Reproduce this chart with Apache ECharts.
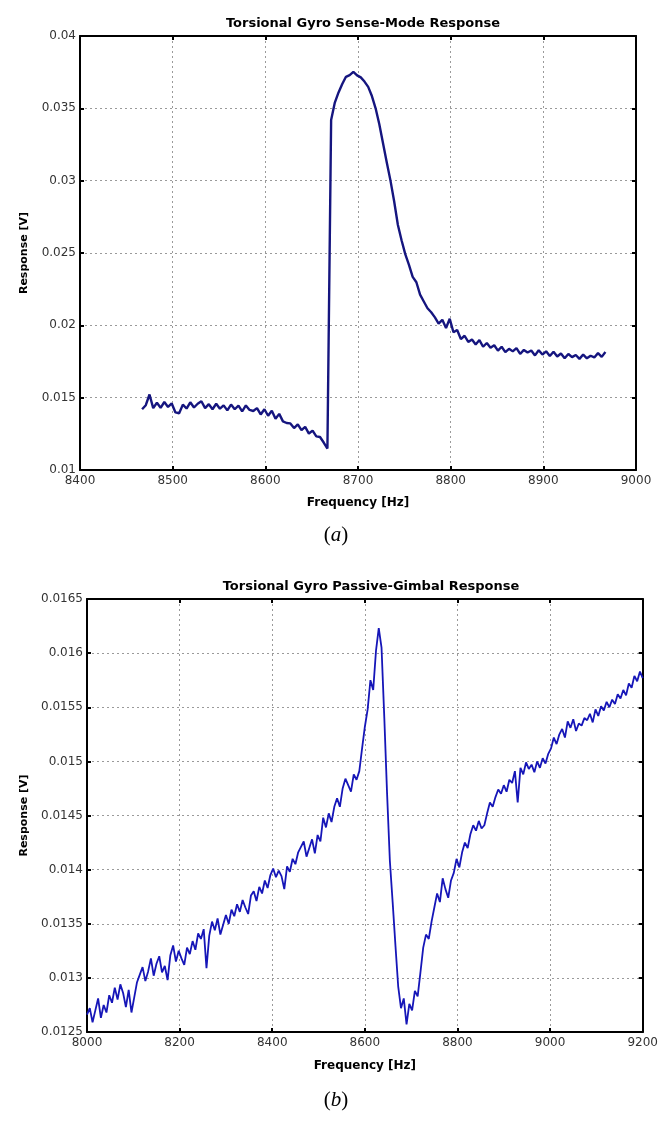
<!DOCTYPE html>
<html>
<head>
<meta charset="utf-8">
<script src="https://cdn.jsdelivr.net/npm/echarts@6/dist/echarts.min.js"></script>
<style>
html, body { margin: 0; padding: 0; background: #fff; }
#chart { width: 661px; height: 1122px; }
</style>
</head>
<body>
<div id="chart"></div>
<script>
// (a) sense-mode sweep, one reading every 4 Hz starting at 8467 Hz
var senseStartHz = 8467;
var senseStepHz = 4;
var senseValues = [
    0.01420, 0.01448, 0.01522, 0.01428, 0.01465, 0.01430, 0.01470, 0.01436, 0.01460, 0.01398,
    0.01392, 0.01452, 0.01425, 0.01468, 0.01432, 0.01458, 0.01475, 0.01428, 0.01455, 0.01420,
    0.01458, 0.01424, 0.01447, 0.01412, 0.01452, 0.01420, 0.01445, 0.01405, 0.01446, 0.01415,
    0.01408, 0.01428, 0.01384, 0.01420, 0.01375, 0.01410, 0.01355, 0.01388, 0.01336, 0.01325,
    0.01322, 0.01290, 0.01315, 0.01275, 0.01298, 0.01252, 0.01272, 0.01232, 0.01228, 0.01190,
    0.01148,
    0.03420, 0.03540, 0.03610, 0.03668, 0.03718, 0.03730, 0.03752, 0.03728, 0.03714,
    0.03685, 0.03648, 0.03585, 0.03500, 0.03390, 0.03258, 0.03128, 0.03002, 0.02858, 0.02695,
    0.02588, 0.02492, 0.02418, 0.02335, 0.02298, 0.02212, 0.02165, 0.02118, 0.02090, 0.02055,
    0.02012, 0.02038, 0.01982, 0.02045, 0.01952, 0.01968, 0.01905, 0.01928, 0.01885, 0.01902,
    0.01868, 0.01898, 0.01852, 0.01878, 0.01845, 0.01862, 0.01825, 0.01852, 0.01815, 0.01838,
    0.01820, 0.01842, 0.01802, 0.01830, 0.01812, 0.01826, 0.01792, 0.01828, 0.01798, 0.01820,
    0.01788, 0.01818, 0.01785, 0.01805, 0.01772, 0.01802, 0.01780, 0.01795, 0.01768, 0.01798,
    0.01772, 0.01790, 0.01778, 0.01808, 0.01782, 0.01815
];

// (b) passive-gimbal sweep, one reading every 6 Hz starting at 8000 Hz
var gimbalStartHz = 8000;
var gimbalStepHz = 6;
var gimbalValues = [
    0.01266, 0.01272, 0.01259, 0.01270, 0.01281, 0.01263, 0.01275, 0.01268, 0.01284, 0.01277,
    0.01291, 0.01280, 0.01294, 0.01286, 0.01273, 0.01289, 0.01268, 0.01282, 0.01296, 0.01303,
    0.01310, 0.01297, 0.01306, 0.01318, 0.01302, 0.01313, 0.01320, 0.01305, 0.01311, 0.01298,
    0.01321, 0.01330, 0.01315, 0.01325, 0.01318, 0.01312, 0.01328, 0.01322, 0.01334, 0.01326,
    0.01341, 0.01336, 0.01345, 0.01309, 0.01339, 0.01352, 0.01344, 0.01355, 0.01340, 0.01349,
    0.01358, 0.01350, 0.01363, 0.01357, 0.01368, 0.01361, 0.01372, 0.01365, 0.01359, 0.01376,
    0.01380, 0.01371, 0.01384, 0.01378, 0.01390, 0.01383, 0.01395, 0.01401, 0.01393, 0.01399,
    0.01394, 0.01382, 0.01403, 0.01398, 0.01410, 0.01405, 0.01416, 0.01421, 0.01426, 0.01412,
    0.01420, 0.01428, 0.01415, 0.01432, 0.01426, 0.01448, 0.01439, 0.01452, 0.01444, 0.01458,
    0.01466, 0.01458, 0.01475, 0.01484, 0.01478, 0.01472, 0.01488, 0.01483, 0.01491, 0.01512,
    0.01532, 0.01548, 0.01575, 0.01566, 0.01602, 0.01623, 0.01605, 0.01540, 0.01470, 0.01408,
    0.01370, 0.01330, 0.01292, 0.01272, 0.01281, 0.01257, 0.01276, 0.01270, 0.01288, 0.01283,
    0.01305, 0.01328, 0.01340, 0.01336, 0.01352, 0.01365, 0.01378, 0.01370, 0.01392, 0.01382,
    0.01374, 0.01390, 0.01397, 0.01410, 0.01402, 0.01416, 0.01425, 0.01420, 0.01433, 0.01441,
    0.01436, 0.01445, 0.01438, 0.01441, 0.01452, 0.01462, 0.01458, 0.01467, 0.01474, 0.01470,
    0.01478, 0.01472, 0.01483, 0.01480, 0.01491, 0.01462, 0.01494, 0.01488, 0.01499, 0.01493,
    0.01497, 0.01490, 0.01500, 0.01494, 0.01503, 0.01498, 0.01507, 0.01512, 0.01522, 0.01516,
    0.01525, 0.01530, 0.01522, 0.01537, 0.01531, 0.01539, 0.01528, 0.01535, 0.01533, 0.01540,
    0.01538, 0.01544, 0.01536, 0.01548, 0.01542, 0.01551, 0.01547, 0.01555, 0.01550, 0.01557,
    0.01553, 0.01562, 0.01558, 0.01566, 0.01561, 0.01572, 0.01568, 0.01579, 0.01574, 0.01583,
    0.01577
];

var titles = ['Torsional Gyro Sense-Mode Response', 'Torsional Gyro Passive-Gimbal Response'];
var captions = ['a', 'b'];

var font = 'DejaVu Sans';

function toPairs(start, step, values) {
    return values.map(function (v, i) { return [start + i * step, v]; });
}

function yFmt(digits) {
    return function (v) { return String(+v.toFixed(digits)); };
}

var gridLine = { show: true, lineStyle: { color: '#9a9a9a', type: [2, 3], width: 1 } };
var boxLine = { show: true, lineStyle: { color: '#000', width: 2 } };
var inTick = { show: true, inside: true, length: 4, lineStyle: { color: '#000', width: 2 } };

// bottom / left axes carry labels, top / right ones only close the box
function xAxes(gridIndex, min, max, interval, nameGap) {
    return [{
        type: 'value', gridIndex: gridIndex, min: min, max: max, interval: interval,
        name: 'Frequency [Hz]', nameLocation: 'middle', nameGap: nameGap,
        nameTextStyle: { fontFamily: font, fontWeight: 'bold', fontSize: 12, color: '#000' },
        axisLine: boxLine, axisTick: inTick, splitLine: gridLine,
        axisLabel: { fontFamily: font, fontSize: 12, color: '#333', margin: 5,
                     formatter: function (v) { return String(v); } }
    }, {
        type: 'value', gridIndex: gridIndex, position: 'top', min: min, max: max, interval: interval,
        axisLine: boxLine, axisTick: inTick, splitLine: { show: false }, axisLabel: { show: false }
    }];
}

function yAxes(gridIndex, min, max, interval, digits, nameGap) {
    return [{
        type: 'value', gridIndex: gridIndex, min: min, max: max, interval: interval,
        name: 'Response [V]', nameLocation: 'middle', nameGap: nameGap, nameRotate: 90,
        nameTextStyle: { fontFamily: font, fontWeight: 'bold', fontSize: 11, color: '#000' },
        axisLine: boxLine, axisTick: inTick, splitLine: gridLine,
        axisLabel: { fontFamily: font, fontSize: 12, color: '#333', margin: 4, formatter: yFmt(digits) }
    }, {
        type: 'value', gridIndex: gridIndex, position: 'right', min: min, max: max, interval: interval,
        axisLine: boxLine, axisTick: inTick, splitLine: { show: false }, axisLabel: { show: false }
    }];
}

var capStyle = {
    fontWeight: 'normal',
    rich: {
        p: { fontFamily: 'Liberation Serif', fontWeight: 'normal', fontSize: 21, color: '#000' },
        i: { fontFamily: 'Liberation Serif', fontWeight: 'normal', fontStyle: 'italic', fontSize: 21, color: '#000' }
    }
};

var option = {
    animation: false,
    backgroundColor: '#fff',
    title: [
        { text: titles[0], left: 358, top: 12, textAlign: 'center',
          textStyle: { fontFamily: font, fontWeight: 'bold', fontSize: 13, color: '#000' } },
        { text: titles[1], left: 366, top: 575, textAlign: 'center',
          textStyle: { fontFamily: font, fontWeight: 'bold', fontSize: 13, color: '#000' } },
        { text: '{p|(}{i|' + captions[0] + '}{p|)}', left: 331, top: 520, textAlign: 'center', textStyle: capStyle },
        { text: '{p|(}{i|' + captions[1] + '}{p|)}', left: 331, top: 1085, textAlign: 'center', textStyle: capStyle }
    ],
    grid: [
        { left: 80, top: 36, width: 556, height: 434 },
        { left: 87, top: 599, width: 558, height: 433 }
    ],
    xAxis: xAxes(0, 8400, 9000, 100, 27).concat(xAxes(1, 8000, 9200, 200, 28)),
    yAxis: yAxes(0, 0.01, 0.04, 0.005, 4, 50).concat(yAxes(1, 0.0125, 0.0165, 0.0005, 5, 56)),
    series: [{
        type: 'line', xAxisIndex: 0, yAxisIndex: 0, showSymbol: false,
        lineStyle: { color: '#15157f', width: 2.4 },
        data: toPairs(senseStartHz, senseStepHz, senseValues)
    }, {
        type: 'line', xAxisIndex: 2, yAxisIndex: 2, showSymbol: false,
        lineStyle: { color: '#1616b8', width: 1.8 },
        data: toPairs(gimbalStartHz, gimbalStepHz, gimbalValues)
    }]
};

var chart = echarts.init(document.getElementById('chart'));
chart.setOption(option);
</script>
</body>
</html>
